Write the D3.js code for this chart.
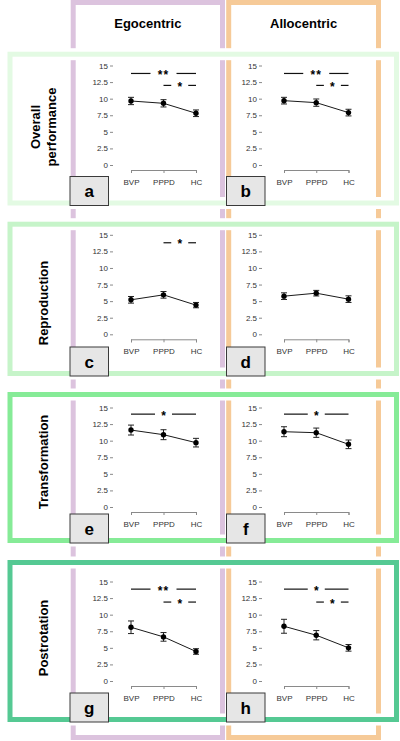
<!DOCTYPE html>
<html>
<head>
<meta charset="utf-8">
<script src="https://cdn.jsdelivr.net/npm/d3@7"></script>
<style>
  body { margin: 0; background: #fff; }
  svg { display: block; font-family: 'Liberation Sans', Arial, sans-serif; }
  .axis text { font-size: 8px; fill: #333; }
  .axis line, .axis path { stroke: #8a8a8a; }
</style>
</head>
<body>
<div id="chart"></div>
<script>
// Groups on the x axis and y tick values
const groups = ['BVP', 'PPPD', 'HC'];
const yTicks = [0, 2.5, 5, 7.5, 10, 12.5, 15];

// Column and row titles, panel letters
const frames = ['Egocentric', 'Allocentric'];
const measures = [['Overall', 'performance'], ['Reproduction'], ['Transformation'], ['Postrotation']];
const egoLetters = ['a', 'c', 'e', 'g'];
const alloLetters = ['b', 'd', 'f', 'h'];

// Means (one row per measure) and error bar half widths
const egoMeans = [[9.65, 9.3, 7.8], [5.2, 5.95, 4.4], [11.6, 10.9, 9.7], [8.1, 6.65, 4.45]];
const egoErrors = [[0.55, 0.55, 0.5], [0.5, 0.5, 0.4], [0.75, 0.75, 0.65], [0.95, 0.65, 0.42]];
const alloMeans = [[9.7, 9.4, 7.9], [5.75, 6.2, 5.3], [11.35, 11.2, 9.45], [8.25, 6.9, 5.0]];
const alloErrors = [[0.5, 0.55, 0.5], [0.5, 0.42, 0.5], [0.75, 0.7, 0.65], [1.05, 0.7, 0.5]];

// Significance brackets: [from group, to group, label, height]
const egoSig = [
  [['BVP', 'HC', '**', 13.8], ['PPPD', 'HC', '*', 12.0]],
  [['PPPD', 'HC', '*', 13.8]],
  [['BVP', 'HC', '*', 14.0]],
  [['BVP', 'HC', '**', 13.85], ['PPPD', 'HC', '*', 11.9]]
];
const alloSig = [
  [['BVP', 'HC', '**', 13.8], ['PPPD', 'HC', '*', 12.0]],
  [],
  [['BVP', 'HC', '*', 14.0]],
  [['BVP', 'HC', '*', 13.85], ['PPPD', 'HC', '*', 11.9]]
];

// Page layout
const layout = {
  width: 400,
  height: 741,
  panelLeft: 10, panelRight: 396.5,
  rowTop: [54.2, 224.2, 394.5, 562.5],
  rowBottom: [203, 373.5, 540.5, 719.5],
  rowZero: [165, 334.3, 507, 681],
  rowLabelY: [127, 303, 462, 638],
  rowColors: ['#e3fae3', '#c6f4c9', '#86eb97', '#55c993'],
  colLeft: [73.2, 228.7], colRight: [222.5, 378.5],
  colColors: ['#dcc3de', '#f6ca98'],
  axisX: [113, 262], xStart: [131, 284], xEnd: [196, 348.5],
  boxX: [70, 226.5]
};

class ErrorPlot {

  constructor(_config, _means, _errors, _sig) {
    this.config = {
      parent: _config.parent,
      axisX: _config.axisX,
      xStart: _config.xStart,
      xEnd: _config.xEnd,
      zeroY: _config.zeroY,
      plotHeight: 99.5
    };
    this.means = _means;
    this.errors = _errors;
    this.sig = _sig;
    this.initVis();
  }

  initVis() {
    let vis = this;

    vis.xScale = d3.scalePoint()
      .domain(groups)
      .range([vis.config.xStart, vis.config.xEnd]);

    vis.yScale = d3.scaleLinear()
      .domain([0, 15])
      .range([vis.config.zeroY, vis.config.zeroY - vis.config.plotHeight]);

    vis.yAxis = d3.axisLeft(vis.yScale)
      .tickValues(yTicks)
      .tickFormat(d3.format('~g'))
      .tickSize(3)
      .tickPadding(2);

    vis.xAxis = d3.axisBottom(vis.xScale)
      .tickSizeInner(3)
      .tickSizeOuter(3)
      .tickPadding(6);

    vis.g = vis.config.parent.append('g');

    vis.yAxisG = vis.g.append('g')
      .attr('class', 'axis y-axis')
      .attr('transform', `translate(${vis.config.axisX},0)`);

    vis.xAxisG = vis.g.append('g')
      .attr('class', 'axis x-axis')
      .attr('transform', `translate(0,${vis.config.zeroY + 5})`);

    vis.updateVis();
  }

  updateVis() {
    let vis = this;
    vis.data = groups.map((g, i) => ({group: g, mean: vis.means[i], err: vis.errors[i]}));
    vis.renderVis();
  }

  renderVis() {
    let vis = this;

    vis.yAxisG.call(vis.yAxis).call(g => g.select('.domain').remove());
    vis.xAxisG.call(vis.xAxis);

    // Line through the means
    const line = d3.line()
      .x(d => vis.xScale(d.group))
      .y(d => vis.yScale(d.mean));

    vis.g.append('path')
      .datum(vis.data)
      .attr('d', line)
      .attr('fill', 'none')
      .attr('stroke', '#1a1a1a')
      .attr('stroke-width', 1);

    // Error bars with caps
    const bars = vis.g.selectAll('.err')
      .data(vis.data)
      .join('g')
      .attr('class', 'err')
      .attr('stroke', '#222')
      .attr('stroke-width', 1);

    bars.append('line')
      .attr('x1', d => vis.xScale(d.group))
      .attr('x2', d => vis.xScale(d.group))
      .attr('y1', d => vis.yScale(d.mean - d.err))
      .attr('y2', d => vis.yScale(d.mean + d.err));

    bars.selectAll('.cap')
      .data(d => [d.mean - d.err, d.mean + d.err].map(v => ({x: vis.xScale(d.group), v: v})))
      .join('line')
      .attr('class', 'cap')
      .attr('x1', d => d.x - 3)
      .attr('x2', d => d.x + 3)
      .attr('y1', d => vis.yScale(d.v))
      .attr('y2', d => vis.yScale(d.v));

    vis.g.selectAll('.point')
      .data(vis.data)
      .join('circle')
      .attr('class', 'point')
      .attr('r', 2.7)
      .attr('cx', d => vis.xScale(d.group))
      .attr('cy', d => vis.yScale(d.mean))
      .attr('fill', '#000');

    // Significance markers: a line broken by the star label
    vis.sig.forEach(s => {
      const x1 = vis.xScale(s[0]);
      const x2 = vis.xScale(s[1]);
      const y = vis.yScale(s[3]);
      const mid = (x1 + x2) / 2;
      const gap = 4 + 4.5 * s[2].length;

      [[x1, mid - gap], [mid + gap, x2]].forEach(seg => {
        vis.g.append('line')
          .attr('x1', seg[0]).attr('x2', seg[1])
          .attr('y1', y).attr('y2', y)
          .attr('stroke', '#111')
          .attr('stroke-width', 1.2);
      });

      vis.g.append('text')
        .attr('x', mid)
        .attr('y', y + 5.5)
        .attr('text-anchor', 'middle')
        .attr('font-size', 12)
        .attr('font-weight', 'bold')
        .attr('letter-spacing', s[2].length > 1 ? 1 : 0)
        .text(s[2]);
    });
  }
}

const svg = d3.select('#chart').append('svg')
  .attr('width', layout.width)
  .attr('height', layout.height);

svg.append('rect')
  .attr('width', layout.width)
  .attr('height', layout.height)
  .attr('fill', '#fff');

// Row panels (white inside, green borders)
measures.forEach((m, i) => {
  svg.append('rect')
    .attr('x', layout.panelLeft)
    .attr('y', layout.rowTop[i])
    .attr('width', layout.panelRight - layout.panelLeft)
    .attr('height', layout.rowBottom[i] - layout.rowTop[i])
    .attr('fill', '#fff')
    .attr('stroke', layout.rowColors[i])
    .attr('stroke-width', 5);
});

// Column frames run over the panels
frames.forEach((f, j) => {
  svg.append('rect')
    .attr('x', layout.colLeft[j])
    .attr('y', 2.5)
    .attr('width', layout.colRight[j] - layout.colLeft[j])
    .attr('height', 735)
    .attr('fill', 'none')
    .attr('stroke', layout.colColors[j])
    .attr('stroke-width', 5);
});

// Redraw the panel borders with a white halo so the column lines break around them
measures.forEach((m, i) => {
  [['#fff', 12], [layout.rowColors[i], 5]].forEach(st => {
    svg.append('rect')
      .attr('x', layout.panelLeft)
      .attr('y', layout.rowTop[i])
      .attr('width', layout.panelRight - layout.panelLeft)
      .attr('height', layout.rowBottom[i] - layout.rowTop[i])
      .attr('fill', 'none')
      .attr('stroke', st[0])
      .attr('stroke-width', st[1]);
  });
});

// Column headers
frames.forEach((f, j) => {
  svg.append('text')
    .attr('x', (layout.colLeft[j] + layout.colRight[j]) / 2)
    .attr('y', 23)
    .attr('dominant-baseline', 'central')
    .attr('text-anchor', 'middle')
    .attr('font-size', 13)
    .attr('font-weight', 'bold')
    .text(f);
});

// Charts
measures.forEach((m, i) => {
  [[egoMeans, egoErrors, egoSig], [alloMeans, alloErrors, alloSig]].forEach((set, j) => {
    new ErrorPlot({
      parent: svg,
      axisX: layout.axisX[j],
      xStart: layout.xStart[j],
      xEnd: layout.xEnd[j],
      zeroY: layout.rowZero[i]
    }, set[0][i], set[1][i], set[2][i]);
  });

  // Row title, rotated
  const label = svg.append('text')
    .attr('transform', `translate(43,${layout.rowLabelY[i]}) rotate(-90)`)
    .attr('text-anchor', 'middle')
    .attr('font-size', 13)
    .attr('font-weight', 'bold');

  label.selectAll('tspan')
    .data(m)
    .join('tspan')
    .attr('x', 0)
    .attr('y', (d, k) => (k - (m.length - 1) / 2) * 16)
    .attr('dominant-baseline', 'central')
    .text(d => d);

  // Panel letter boxes
  [egoLetters[i], alloLetters[i]].forEach((letter, j) => {
    const boxY = layout.rowBottom[i] + 2.5 - 29;
    svg.append('rect')
      .attr('x', layout.boxX[j])
      .attr('y', boxY)
      .attr('width', 38.5)
      .attr('height', 29)
      .attr('fill', '#e6e6e6')
      .attr('stroke', '#3a3a3a')
      .attr('stroke-width', 1);

    svg.append('text')
      .attr('x', layout.boxX[j] + 19.25)
      .attr('y', boxY + 20.5)
      .attr('text-anchor', 'middle')
      .attr('font-size', 17)
      .attr('font-weight', 'bold')
      .text(letter);
  });
});
</script>
</body>
</html>
